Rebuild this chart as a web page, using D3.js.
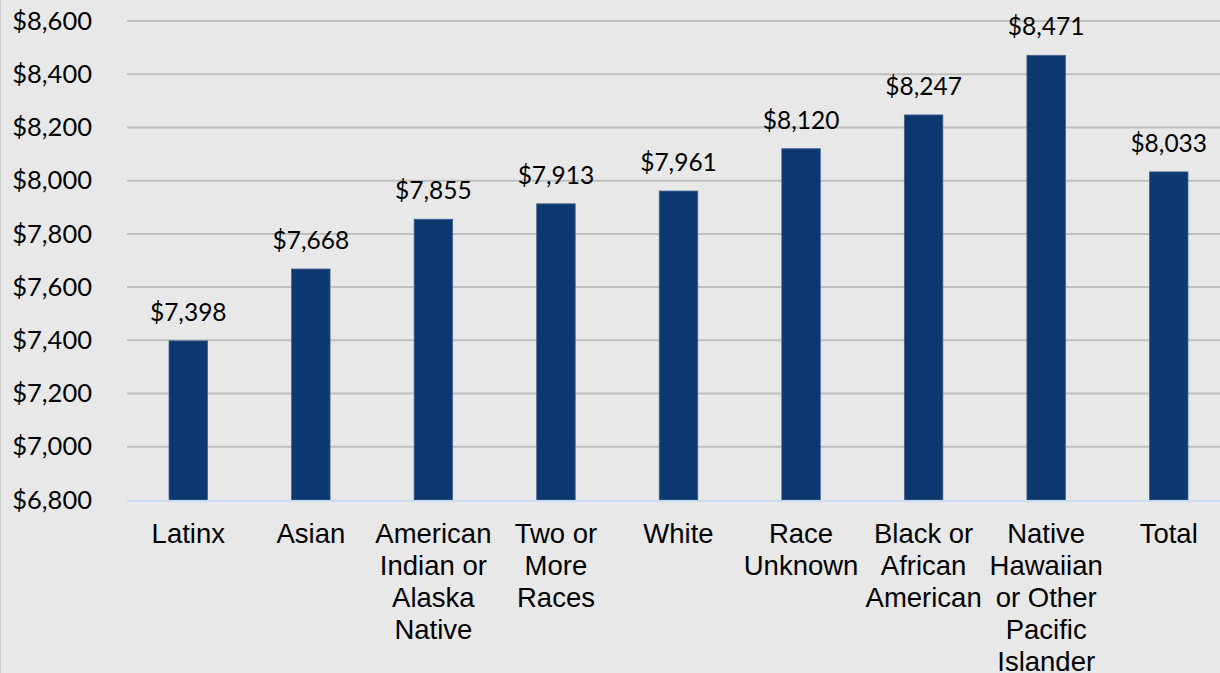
<!DOCTYPE html>
<html>
<head>
<meta charset="utf-8">
<script src="https://cdn.jsdelivr.net/npm/d3@7"></script>
<style>
  html, body { margin: 0; padding: 0; background: #e8e8e8; overflow: hidden; }
  #chart { width: 1220px; height: 673px; }
  #chart svg { display: block; }
</style>
</head>
<body>
<div id="chart"></div>
<script>
// data
const categories = [
  "Latinx",
  "Asian",
  "American Indian or Alaska Native",
  "Two or More Races",
  "White",
  "Race Unknown",
  "Black or African American",
  "Native Hawaiian or Other Pacific Islander",
  "Total"
];
const categoryLines = [
  ["Latinx"],
  ["Asian"],
  ["American", "Indian or", "Alaska", "Native"],
  ["Two or", "More", "Races"],
  ["White"],
  ["Race", "Unknown"],
  ["Black or", "African", "American"],
  ["Native", "Hawaiian", "or Other", "Pacific", "Islander"],
  ["Total"]
];
const values = [7398, 7668, 7855, 7913, 7961, 8120, 8247, 8471, 8033];
const yTicks = [6800, 7000, 7200, 7400, 7600, 7800, 8000, 8200, 8400, 8600];

const width = 1220;
const height = 673;
const margin = {top: 21, right: -10, bottom: 173, left: 127};
const innerWidth = width - margin.left - margin.right;
const innerHeight = height - margin.top - margin.bottom;

const fmt = d => "$" + d3.format(",")(d);

/*******************************/
/*    Append the containers    */
/*******************************/
const svg = d3.select("#chart")
  .append("svg")
    .attr("width", width)
    .attr("height", height);

// faint left border of the chart area
svg.append("line")
    .attr("x1", 0.5)
    .attr("x2", 0.5)
    .attr("y1", 0)
    .attr("y2", height)
    .attr("stroke", "#cfcfcf")
    .attr("stroke-width", 1);

const innerChart = svg
  .append("g")
    .attr("transform", `translate(${margin.left}, ${margin.top})`);

/*******************************/
/*    Define the scales        */
/*******************************/
const xScale = d3.scaleBand()
  .domain(categories)
  .range([0, innerWidth])
  .paddingInner(0.686)
  .paddingOuter(0.343);

const yScale = d3.scaleLinear()
  .domain([6800, 8600])
  .range([innerHeight, 0]);

/*******************************/
/*    Gridlines & axes         */
/*******************************/
innerChart
  .selectAll(".grid")
  .data(yTicks.slice(1))
  .join("line")
    .attr("class", "grid")
    .attr("x1", 0)
    .attr("x2", width - margin.left)
    .attr("y1", d => yScale(d))
    .attr("y2", d => yScale(d))
    .attr("stroke", "#bfbfbf")
    .attr("stroke-width", 2);

const leftAxis = d3.axisLeft(yScale)
  .tickValues(yTicks)
  .tickFormat(fmt)
  .tickSize(0)
  .tickPadding(35);

innerChart
  .append("g")
    .attr("class", "y-axis")
    .call(leftAxis)
    .call(g => g.select(".domain").remove())
    .call(g => g.selectAll("text")
      .attr("font-family", "Lato, sans-serif")
      .attr("font-size", "25.5px")
      .attr("fill", "#000"));

/*******************************/
/*    Append Bars              */
/*******************************/
innerChart
  .selectAll(".bar")
  .data(values)
  .join("rect")
    .attr("class", "bar")
    .attr("x", (d, i) => xScale(categories[i]))
    .attr("y", d => yScale(d))
    .attr("width", xScale.bandwidth())
    .attr("height", d => innerHeight - yScale(d))
    .attr("fill", "#0c376f")
    .attr("stroke", "#41628f")
    .attr("stroke-width", 0.8);

// baseline
innerChart
  .append("line")
    .attr("x1", 0)
    .attr("x2", width - margin.left)
    .attr("y1", innerHeight + 1)
    .attr("y2", innerHeight + 1)
    .attr("stroke", "#c9dcf2")
    .attr("stroke-width", 2);

// value labels
innerChart
  .selectAll(".value-label")
  .data(values)
  .join("text")
    .attr("class", "value-label")
    .attr("x", (d, i) => xScale(categories[i]) + xScale.bandwidth() / 2)
    .attr("y", d => yScale(d) - 20)
    .attr("text-anchor", "middle")
    .attr("font-family", "Lato, sans-serif")
    .attr("font-size", "24.5px")
    .attr("fill", "#000")
    .text(fmt);

// category labels
const catLabels = innerChart
  .selectAll(".cat-label")
  .data(categoryLines)
  .join("text")
    .attr("class", "cat-label")
    .attr("text-anchor", "middle")
    .attr("font-family", "'Liberation Sans', Arial, sans-serif")
    .attr("font-size", "27.5px")
    .attr("fill", "#000")
    .attr("transform", (d, i) =>
      `translate(${xScale(categories[i]) + xScale.bandwidth() / 2}, ${innerHeight + 43})`);

catLabels.selectAll("tspan")
  .data(d => d)
  .join("tspan")
    .attr("x", 0)
    .attr("y", (d, j) => j * 32)
    .text(d => d);
</script>
</body>
</html>
